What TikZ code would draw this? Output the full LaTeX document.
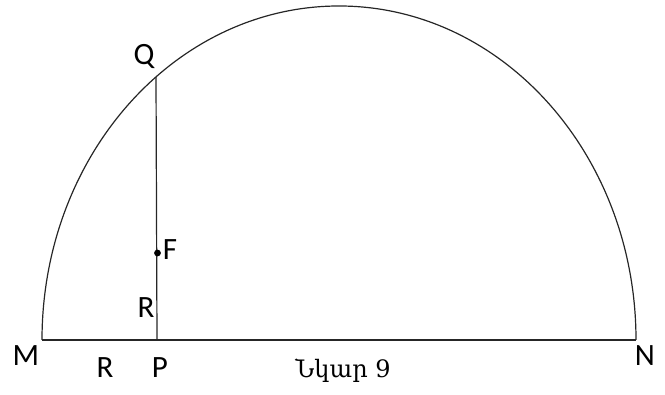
\documentclass[tikz,border=0pt]{standalone}
\usepackage{fontspec}
\setmainfont{Carlito}
\newfontfamily\armfont{DejaVu Serif}
\usetikzlibrary{positioning,calc}
\tikzset{
  geom/.style={line width=1.2pt, draw=black!85},
  lbl/.style={inner sep=0pt, font=\fontsize{31}{34}\selectfont},
  capt/.style={inner sep=0pt, font=\armfont\fontsize{24}{28}\selectfont},
}

\begin{document}
\begin{tikzpicture}[x=1pt, y=1pt]
  \useasboundingbox (0,0) rectangle (665,395);
  \coordinate (M) at (42,55);
  \coordinate (N) at (636,55);
  \coordinate (P) at (157,55);
  \coordinate (Q) at (156,318);
  \coordinate (F) at (157.5,142);
  % base line, half ellipse and the chord PQ
  \draw[geom] (M) -- (N);
  \draw[geom] (N) arc[start angle=0, end angle=180, x radius=297, y radius=334];
  \draw[geom] (P) -- (Q);
  \fill (F) circle (3.4);
  \node[lbl] (lq) at (144,338) {Q};
  \node[lbl] (lf) at (170,145) {F};
  \node[lbl] (lr1) at (146,87) {R};
  \node[lbl] (lm) at (26,39) {M};
  \node[lbl] (lr2) at (105,27) {R};
  \node[lbl] (lp) at (160,27) {P};
  \node[lbl] (ln) at (645,39) {N};
  \node[capt] (cap) at (343,24) {Նկար 9};
\end{tikzpicture}
\end{document}
